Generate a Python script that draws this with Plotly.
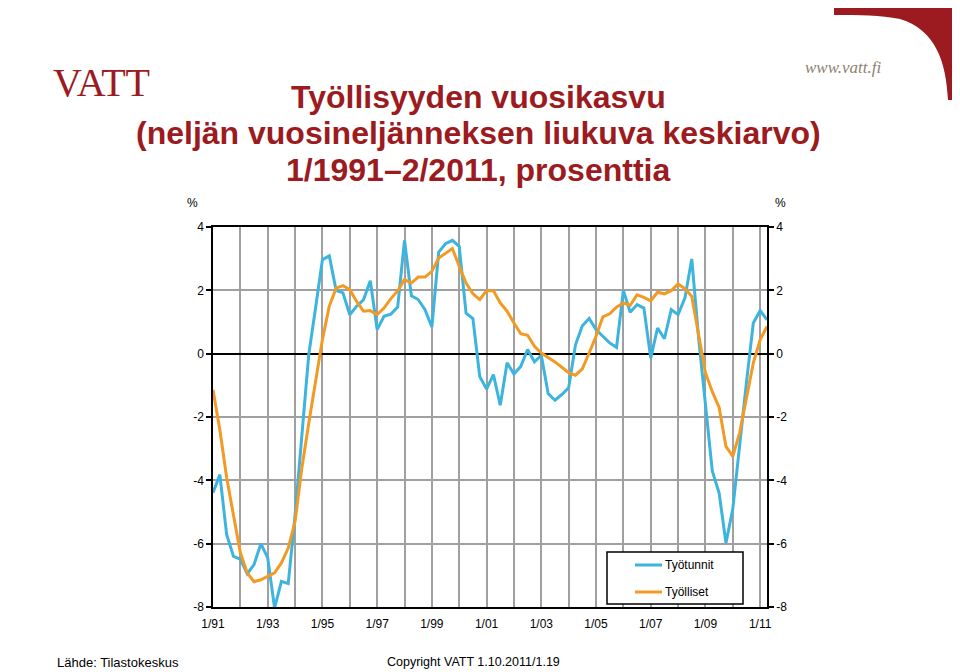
import plotly.graph_objects as go

# ---------------- data ----------------
quarter_index = list(range(82))  # 1/1991 ... 2/2011
tick_positions = list(range(0, 81, 4))
tick_labels = ["1/91", "", "1/93", "", "1/95", "", "1/97", "", "1/99", "", "1/01", "",
               "1/03", "", "1/05", "", "1/07", "", "1/09", "", "1/11"]

tyotunnit = [-4.39, -3.82, -5.72, -6.40, -6.49, -6.95, -6.66, -6.00, -6.45, -8.03,
             -7.19, -7.26, -5.10, -2.50, -0.03, 1.45, 2.97, 3.09, 2.00, 1.92,
             1.23, 1.50, 1.70, 2.30, 0.76, 1.18, 1.25, 1.47, 3.58, 1.83,
             1.71, 1.39, 0.84, 3.21, 3.47, 3.58, 3.39, 1.28, 1.11, -0.72,
             -1.12, -0.66, -1.63, -0.29, -0.64, -0.40, 0.13, -0.26, -0.05, -1.26,
             -1.47, -1.29, -1.08, 0.28, 0.88, 1.11, 0.76, 0.55, 0.34, 0.20,
             1.99, 1.31, 1.55, 1.44, -0.14, 0.81, 0.47, 1.39, 1.23, 1.76,
             2.99, 0.50, -1.60, -3.70, -4.40, -5.98, -4.90, -2.80, -0.90, 0.97,
             1.36, 1.07]

tyolliset = [-1.14, -2.40, -3.92, -5.14, -6.29, -6.92, -7.20, -7.14, -7.03, -6.92,
             -6.61, -6.14, -5.30, -3.60, -2.20, -0.85, 0.45, 1.50, 2.07, 2.15,
             2.02, 1.65, 1.34, 1.36, 1.23, 1.44, 1.74, 1.98, 2.34, 2.23,
             2.42, 2.42, 2.60, 3.02, 3.18, 3.32, 2.76, 2.23, 1.89, 1.71,
             1.99, 1.99, 1.60, 1.34, 0.97, 0.63, 0.58, 0.23, 0.02, -0.11,
             -0.26, -0.43, -0.60, -0.68, -0.48, 0.02, 0.55, 1.16, 1.26, 1.47,
             1.60, 1.53, 1.86, 1.78, 1.67, 1.94, 1.89, 1.99, 2.20, 2.05,
             1.81, 0.60, -0.60, -1.20, -1.70, -2.93, -3.24, -2.50, -1.35, -0.29,
             0.44, 0.86]

y_ticks = [-8, -6, -4, -2, 0, 2, 4]
y_tick_labels = ["-8", "-6", "-4", "-2", "0", "2", "4"]

series_names = ["Työtunnit", "Työlliset"]
# ---------------------------------------

W, H = 960, 672
OX, OY = 8, 8  # page body margin offset
BLUE = "#3DB4DE"
ORANGE = "#F29A24"
RED = "#9B1B20"
SANS = "Liberation Sans, Arial, sans-serif"


def px(x):
    return (x - OX) / W


def py(y):
    return 1 - (y - OY) / H


fig = go.Figure()
fig.add_trace(go.Scatter(x=quarter_index, y=tyotunnit, mode="lines", name=series_names[0],
                         line=dict(color=BLUE, width=3), showlegend=False))
fig.add_trace(go.Scatter(x=quarter_index, y=tyolliset, mode="lines", name=series_names[1],
                         line=dict(color=ORANGE, width=3), showlegend=False))
# invisible trace to activate right axis
fig.add_trace(go.Scatter(x=[0], y=[0], yaxis="y2", mode="markers",
                         marker=dict(opacity=0), showlegend=False, hoverinfo="skip"))

fig.update_layout(
    width=W, height=H,
    margin=dict(l=0, r=0, t=0, b=0, pad=0, autoexpand=False),
    paper_bgcolor="white", plot_bgcolor="white",
    showlegend=False,
    font=dict(family=SANS, size=12, color="black"),
    xaxis=dict(domain=[px(213), px(767)], range=[0, 81], automargin=False,
               tickvals=tick_positions, ticktext=tick_labels,
               showgrid=True, gridcolor="#A0A0A0", gridwidth=1.5,
               showline=True, linecolor="black", linewidth=1.5, mirror=True,
               ticks="", zeroline=False, tickfont=dict(size=12), ticklabelstandoff=5,
               fixedrange=True),
    yaxis=dict(domain=[py(607), py(227)], range=[-8, 4], automargin=False,
               tickvals=y_ticks, ticktext=y_tick_labels,
               showgrid=True, gridcolor="#A0A0A0", gridwidth=1.5,
               zeroline=True, zerolinecolor="black", zerolinewidth=1.5,
               showline=True, linecolor="black", linewidth=1.5,
               ticks="outside", ticklen=5, tickcolor="black", tickwidth=1.5,
               tickfont=dict(size=12)),
    yaxis2=dict(overlaying="y", side="right", anchor="x", range=[-8, 4], automargin=False,
                tickvals=y_ticks, ticktext=y_tick_labels,
                showgrid=False, zeroline=False,
                showline=True, linecolor="black", linewidth=1.5,
                ticks="outside", ticklen=5, tickcolor="black", tickwidth=1.5,
                tickfont=dict(size=12)),
)

ann = []
# title
title_lines = ["Työllisyyden vuosikasvu",
               "(neljän vuosineljänneksen liukuva keskiarvo)",
               "1/1991\u20132/2011, prosenttia"]
for txt, yc in zip(title_lines, [97, 133, 170]):
    ann.append(dict(x=px(478), y=py(yc), xref="paper", yref="paper", text=f"<b>{txt}</b>",
                    showarrow=False, xanchor="center", yanchor="middle",
                    font=dict(family=SANS, size=32, color=RED)))
# % labels
ann.append(dict(x=px(192), y=py(203), xref="paper", yref="paper", text="%", showarrow=False,
                xanchor="center", yanchor="middle", font=dict(size=12)))
ann.append(dict(x=px(780), y=py(203), xref="paper", yref="paper", text="%", showarrow=False,
                xanchor="center", yanchor="middle", font=dict(size=12)))
# footer
ann.append(dict(x=px(55), y=py(662), xref="paper", yref="paper", text="Lähde: Tilastokeskus",
                showarrow=False, xanchor="left", yanchor="middle",
                font=dict(family=SANS, size=13)))
ann.append(dict(x=px(385), y=py(662), xref="paper", yref="paper",
                text="Copyright VATT 1.10.2011/1.19",
                showarrow=False, xanchor="left", yanchor="middle",
                font=dict(family=SANS, size=12.5)))
# www.vatt.fi
ann.append(dict(x=px(843), y=py(67), xref="paper", yref="paper", text="<i>www.vatt.fi</i>",
                showarrow=False, xanchor="center", yanchor="middle",
                font=dict(family="Liberation Serif, Times New Roman, serif", size=17, color="#8E7F70")))
# VATT logo
ann.append(dict(x=px(101), y=py(82), xref="paper", yref="paper", text="VATT",
                showarrow=False, xanchor="center", yanchor="middle",
                font=dict(family="Liberation Serif, Times New Roman, serif", size=40, color=RED)))

# legend (manual)
legend_rows = [(565, BLUE, series_names[0]), (592, ORANGE, series_names[1])]
shapes = [dict(type="rect", xref="paper", yref="paper", x0=px(607), x1=px(743), y0=py(604), y1=py(552),
               fillcolor="white", line=dict(color="black", width=1.5), layer="above")]
for yy, col, name in legend_rows:
    shapes.append(dict(type="line", xref="paper", yref="paper", x0=px(635), x1=px(662),
                       y0=py(yy), y1=py(yy), line=dict(color=col, width=3), layer="above"))
    ann.append(dict(x=px(663), y=py(yy), xref="paper", yref="paper", text=name, showarrow=False,
                    xanchor="left", yanchor="middle", font=dict(size=12)))


# top-right logo shape
def P(xp, yp):
    return f"{px(xp)},{py(yp)}"


path = (f"M {P(834,8)} L {P(957,8)} L {P(957,100)} L {P(948,100)} "
        f"C {P(946,62)} {P(936,30)} {P(900,19)} C {P(880,15)} {P(860,15)} {P(834,15)} Z")
shapes.append(dict(type="path", xref="paper", yref="paper", path=path,
                   fillcolor=RED, line=dict(width=0), layer="above"))

fig.update_layout(annotations=ann, shapes=shapes)
fig.write_html("out.html")
